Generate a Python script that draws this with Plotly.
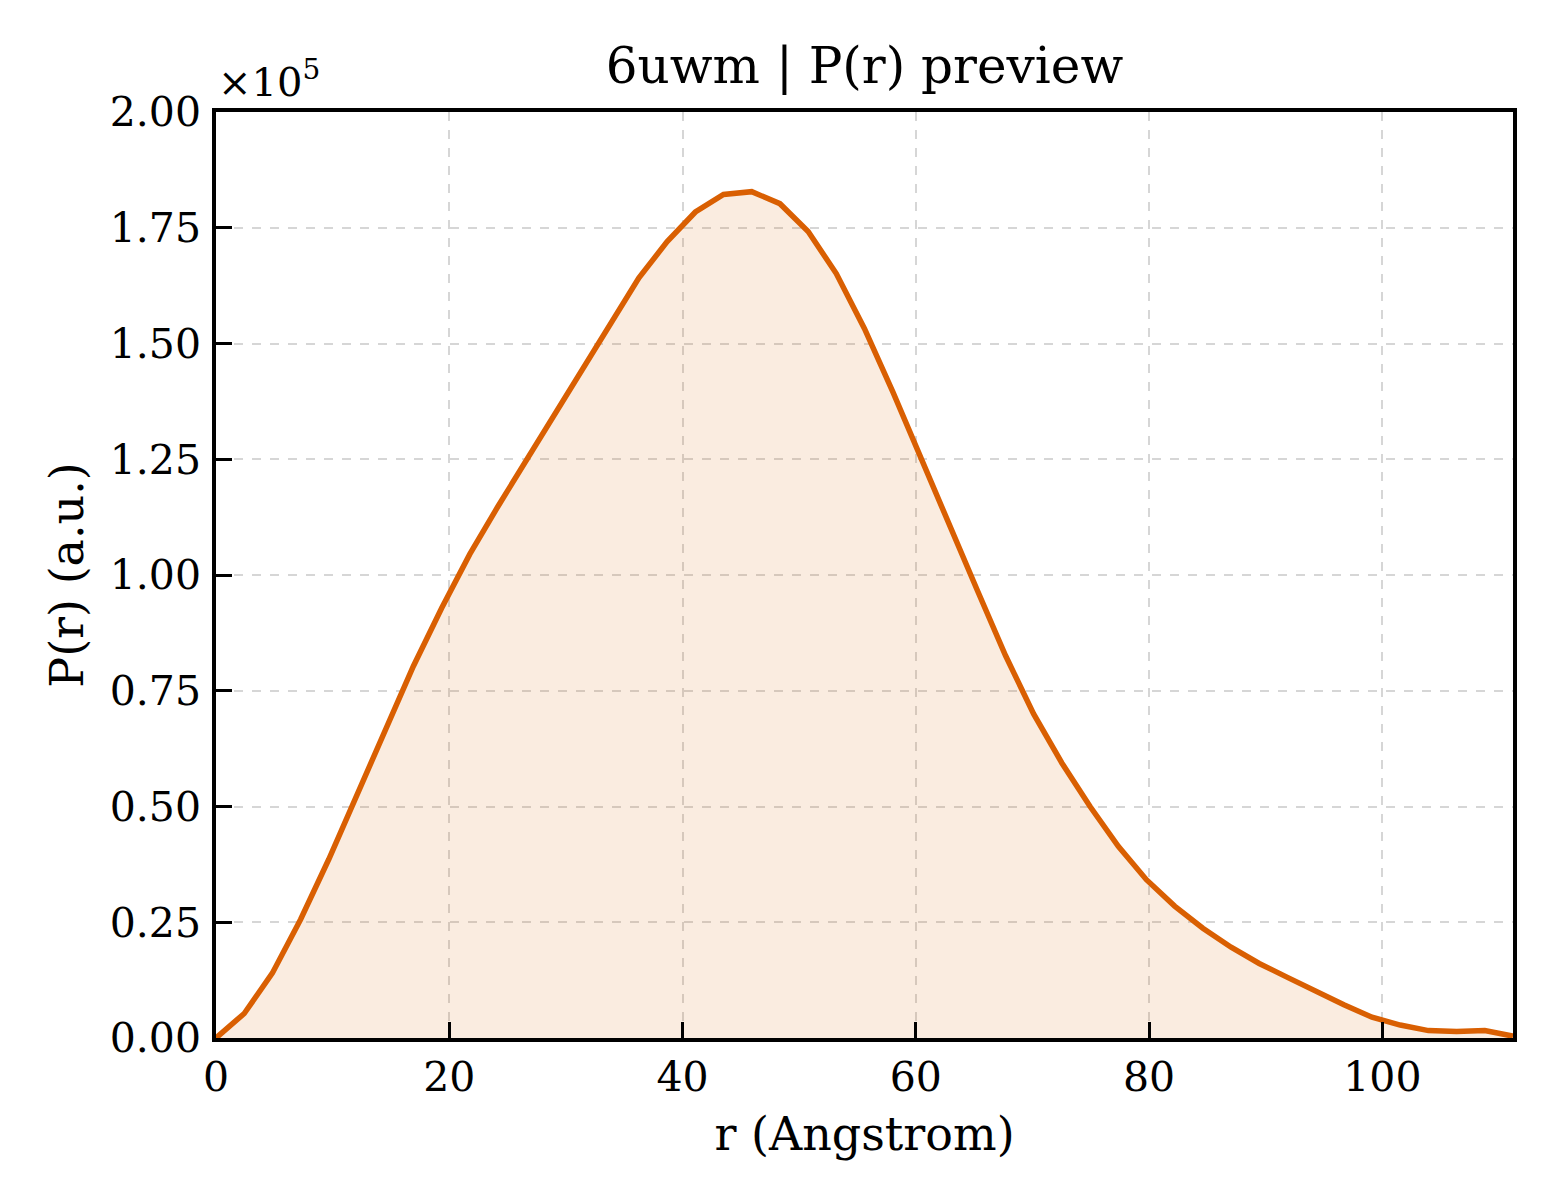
import plotly.graph_objects as go

r = [0.00, 2.42, 4.83, 7.25, 9.67, 12.09, 14.50, 16.92, 19.34, 21.76,
     24.17, 26.59, 29.01, 31.43, 33.84, 36.26, 38.68, 41.10, 43.51, 45.93,
     48.35, 50.77, 53.18, 55.60, 58.02, 60.43, 62.85, 65.27, 67.69, 70.10,
     72.52, 74.94, 77.36, 79.77, 82.19, 84.61, 87.03, 89.44, 91.86, 94.28,
     96.70, 99.11, 101.53, 103.95, 106.37, 108.78, 111.20]
p_r = [0, 5300, 14000, 25600, 38600, 52500, 66400, 80300, 92800, 104500,
       114800, 124800, 134800, 144700, 154500, 164200, 172000, 178400, 182200, 182800,
       180200, 174200, 165100, 153200, 139600, 125200, 110800, 96700, 82600, 70000,
       59400, 50000, 41400, 34200, 28500, 23700, 19600, 16100, 13100, 10100,
       7200, 4500, 2800, 1600, 1400, 1600, 400]

scale = 1e5  # axis shown as x10^5
y_scaled = [v / scale for v in p_r]

x_ticks = [0, 20, 40, 60, 80, 100]
y_ticks = [0, 0.25, 0.5, 0.75, 1.0, 1.25, 1.5, 1.75, 2.0]

line_col = '#d95f02'
font_fam = 'DejaVu Serif'

fig = go.Figure()
fig.add_trace(go.Scatter(x=r, y=y_scaled, mode='lines',
                         line=dict(color=line_col, width=5.5),
                         fill='tozeroy', fillcolor='rgba(217,95,2,0.12)',
                         showlegend=False))

axis_common = dict(showline=True, linecolor='black', linewidth=3.5, mirror=True,
                   ticks='inside', ticklen=16, tickwidth=3, tickcolor='black',
                   showgrid=True, gridcolor='#d6d6d6', gridwidth=1.5, griddash='dash',
                   zeroline=False, tickfont=dict(family=font_fam, size=41, color='black'))

fig.update_xaxes(range=[0, 111.2], tickvals=x_ticks, ticklabelstandoff=0,
                 title=dict(text='r (Angstrom)', font=dict(family=font_fam, size=46, color='black'),
                            standoff=19),
                 **axis_common)
fig.update_yaxes(range=[0, 2.0], tickvals=y_ticks, tickformat='.2f', ticklabelstandoff=3,
                 title=dict(text='P(r) (a.u.)', font=dict(family=font_fam, size=46, color='black'),
                            standoff=13),
                 **axis_common)

fig.add_annotation(text='×10<sup>5</sup>', xref='paper', yref='paper', x=0, y=1.0,
                   xanchor='left', yanchor='bottom', yshift=5, showarrow=False,
                   font=dict(family=font_fam, size=40, color='black'))

fig.update_layout(width=1560, height=1200, plot_bgcolor='white', paper_bgcolor='white',
                  margin=dict(l=208, r=55, t=104, b=170),
                  title=dict(text='6uwm | P(r) preview', x=0.5, xref='paper', xanchor='center',
                             y=0.952, yanchor='middle',
                             font=dict(family=font_fam, size=50, color='black')))

fig.write_html('out.html')
